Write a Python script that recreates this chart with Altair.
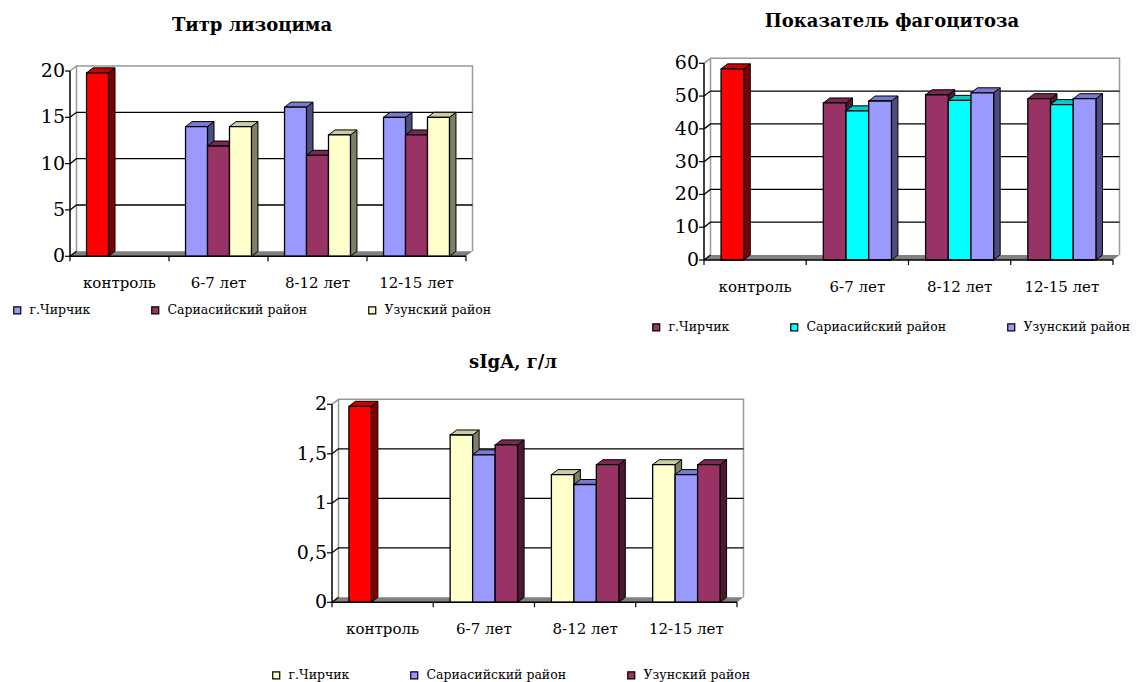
import altair as alt
import pandas as pd

# ---- data -------------------------------------------------------------
categories = ["контроль", "6-7 лет", "8-12 лет", "12-15 лет"]
series = ["г.Чирчик", "Сариасийский район", "Узунский район"]
control_label = "контроль"

# Титр лизоцима
lys_control = 19.8
lys_chirchik = [14.0, 16.1, 15.0]
lys_sariasi = [11.9, 10.9, 13.1]
lys_uzun = [14.0, 13.1, 15.0]
lys_ticks = [0, 5, 10, 15, 20]
lys_tick_labels = ["0", "5", "10", "15", "20"]

# Показатель фагоцитоза
fag_control = 58.3
fag_chirchik = [47.9, 50.4, 49.2]
fag_sariasi = [45.5, 48.7, 47.4]
fag_uzun = [48.5, 51.0, 49.2]
fag_ticks = [0, 10, 20, 30, 40, 50, 60]
fag_tick_labels = ["0", "10", "20", "30", "40", "50", "60"]

# sIgA, г/л
iga_control = 1.98
iga_chirchik = [1.69, 1.29, 1.39]
iga_sariasi = [1.49, 1.19, 1.29]
iga_uzun = [1.59, 1.39, 1.39]
iga_ticks = [0, 0.5, 1, 1.5, 2]
iga_tick_labels = ["0", "0,5", "1", "1,5", "2"]

# ---- style ------------------------------------------------------------
RED = "#FF0000"
PERIWINKLE = "#9999FF"
PLUM = "#993366"
IVORY = "#FFFFCC"
CYAN = "#00FFFF"

FONT = "DejaVu Serif"
DEPTH_X, DEPTH_Y = 6.5, 5.0     # pixel depth of the 3-D columns
BAR_W = 0.222                   # column width, in category units
TICK_PX = 5


def shade(color, f):
    c = color.lstrip("#")
    r, g, b = (int(c[i:i + 2], 16) for i in (0, 2, 4))
    return "#%02x%02x%02x" % (int(r * f), int(g * f), int(b * f))


def panel(title, control, series_values, colors, ticks, tick_labels,
          px_x, px_y, title_xy, legend_xy):
    n = len(categories)
    x0, x1 = px_x
    yb, yt = px_y
    ymax = ticks[-1]
    ux = n / (x1 - x0)
    uy = ymax / (yb - yt)
    dx, dy = DEPTH_X * ux, DEPTH_Y * uy

    xs = alt.Scale(domain=[0, n], range=[x0, x1], nice=False, zero=False)
    ys = alt.Scale(domain=[0, ymax], range=[yb, yt], nice=False, zero=False)

    def X(f):
        return alt.X(f, type="quantitative", scale=xs, axis=None)

    def Y(f):
        return alt.Y(f, type="quantitative", scale=ys, axis=None)

    # columns
    rows = [dict(name=control_label, cat=0, slot=0, v=control, color=RED)]
    for k, (name, vals) in enumerate(zip(series, series_values)):
        for ci, v in enumerate(vals, start=1):
            rows.append(dict(name=name, cat=ci, slot=k, v=v, color=colors[k]))
    bars = pd.DataFrame(rows)
    bars["id"] = range(len(bars))
    centre = bars["cat"] + 0.5 + (bars["slot"] - 1) * BAR_W
    bars["xl"] = centre - BAR_W / 2
    bars["xr"] = centre + BAR_W / 2
    bars["base"] = 0.0

    side = pd.concat([
        pd.DataFrame(dict(id=bars["id"], x=bars["xr"], lo=0.0, hi=bars["v"])),
        pd.DataFrame(dict(id=bars["id"], x=bars["xr"] + dx, lo=dy, hi=bars["v"] + dy)),
    ])
    side["shade"] = side["id"].map(lambda i: shade(bars["color"][i], 0.5))

    top = pd.concat([
        pd.DataFrame(dict(id=bars["id"], y=bars["v"], a=bars["xl"], b=bars["xr"])),
        pd.DataFrame(dict(id=bars["id"], y=bars["v"] + dy, a=bars["xl"] + dx, b=bars["xr"] + dx)),
    ])
    top["shade"] = top["id"].map(lambda i: shade(bars["color"][i], 0.8))

    # back wall, floor and gridlines
    floor = pd.DataFrame(dict(y=[0.0, dy], a=[0.0, dx], b=[float(n), n + dx]))

    grid_rows = []
    for v in ticks[1:-1]:
        for o, (gx, gy) in enumerate([(0, v), (dx, v + dy), (n + dx, v + dy)]):
            grid_rows.append(dict(g=v, o=o, x=gx, y=gy))
    grid_rows += [dict(g=-1, o=0, x=0.0, y=0.0), dict(g=-1, o=1, x=dx, y=dy)]
    grid = pd.DataFrame(grid_rows)

    wall = pd.DataFrame(dict(
        g=[0, 0, 0, 0, 1, 1],
        o=[0, 1, 2, 3, 0, 1],
        x=[0.0, dx, n + dx, n + dx, dx, dx],
        y=[ymax, ymax + dy, ymax + dy, dy, dy, ymax + dy],
    ))

    # axes
    ytick = pd.DataFrame(dict(v=ticks, a=-TICK_PX * ux, b=0.0, label=tick_labels, x=0.0))
    xtick = pd.DataFrame(dict(x=list(range(n + 1)), lo=-TICK_PX * uy, hi=0.0))
    left_axis = pd.DataFrame(dict(x=[0.0], lo=[0.0], hi=[float(ymax)]))
    bottom_axis = pd.DataFrame(dict(a=[0.0], b=[float(n)], y=[0.0]))
    cat_labels = pd.DataFrame(dict(x=[i + 0.5 for i in range(n)], y=0.0, label=categories))

    def legend():
        return alt.Legend(
            orient="none", legendX=legend_xy[0], legendY=legend_xy[1],
            direction="horizontal", title=None, values=series,
            symbolType="square", symbolSize=49, symbolStrokeColor="black",
            symbolStrokeWidth=1.2, labelFont=FONT, labelFontSize=12.5,
            labelColor="black", columnPadding=58, labelOffset=6, padding=0,
        )

    names = [control_label] + series

    layers = [
        alt.Chart(floor).mark_area(orient="horizontal", color="#808080").encode(
            y=Y("y"), x=X("a"), x2="b"),
        alt.Chart(wall).mark_line(color="#999999", strokeWidth=1.5).encode(
            x=X("x"), y=Y("y"), detail="g:N", order="o:Q"),
        alt.Chart(grid).mark_line(color="black", strokeWidth=1.3).encode(
            x=X("x"), y=Y("y"), detail="g:N", order="o:Q"),
        alt.Chart(side).mark_area(orient="vertical", stroke="black", strokeWidth=1).encode(
            x=X("x"), y=Y("lo"), y2="hi", detail="id:N",
            fill=alt.Fill("shade:N", scale=None)),
        alt.Chart(top).mark_area(orient="horizontal", stroke="black", strokeWidth=1).encode(
            y=Y("y"), x=X("a"), x2="b", detail="id:N",
            fill=alt.Fill("shade:N", scale=None)),
        alt.Chart(bars).mark_rect(strokeWidth=1.3, opacity=1).encode(
            x=X("xl"), x2="xr", y=Y("base"), y2="v",
            fill=alt.Fill("name:N", scale=alt.Scale(domain=names, range=[RED] + colors),
                          legend=legend()),
            stroke=alt.Stroke("name:N", scale=alt.Scale(domain=names, range=["black"] * 4),
                              legend=legend()),
        ),
        alt.Chart(left_axis).mark_rule(color="black", strokeWidth=1.5).encode(
            x=X("x"), y=Y("lo"), y2="hi"),
        alt.Chart(bottom_axis).mark_rule(color="black", strokeWidth=1.5).encode(
            x=X("a"), x2="b", y=Y("y")),
        alt.Chart(ytick).mark_rule(color="black", strokeWidth=1.2).encode(
            x=X("a"), x2="b", y=Y("v")),
        alt.Chart(xtick).mark_rule(color="black", strokeWidth=1.2).encode(
            x=X("x"), y=Y("lo"), y2="hi"),
        alt.Chart(ytick).mark_text(align="right", baseline="middle", dx=-5,
                                   font=FONT, fontSize=19, color="black").encode(
            x=X("x"), y=Y("v"), text="label:N"),
        alt.Chart(cat_labels).mark_text(align="center", baseline="middle", dy=27,
                                        font=FONT, fontSize=15, color="black").encode(
            x=X("x"), y=Y("y"), text="label:N"),
        alt.Chart(pd.DataFrame(dict(t=[title]))).mark_text(
            align="center", baseline="middle", font=FONT, fontSize=18,
            fontWeight="bold", color="black").encode(
            x=alt.value(title_xy[0]), y=alt.value(title_xy[1]), text="t:N"),
    ]
    return alt.layer(*layers)


lysozyme = panel("Титр лизоцима", lys_control,
                 [lys_chirchik, lys_sariasi, lys_uzun],
                 [PERIWINKLE, PLUM, IVORY], lys_ticks, lys_tick_labels,
                 (70, 466), (256.3, 71), (252, 26), (11, 304))

phagocytosis = panel("Показатель фагоцитоза", fag_control,
                     [fag_chirchik, fag_sariasi, fag_uzun],
                     [PLUM, CYAN, PERIWINKLE], fag_ticks, fag_tick_labels,
                     (704, 1113), (260, 63.3), (892, 22), (650, 321))

siga = panel("sIgA, г/л", iga_control,
             [iga_chirchik, iga_sariasi, iga_uzun],
             [IVORY, PERIWINKLE, PLUM], iga_ticks, iga_tick_labels,
             (332, 737), (602.3, 404.3), (513, 363), (270, 669))

chart = alt.layer(lysozyme, phagocytosis, siga).resolve_scale(
    x="independent", y="independent", fill="independent", stroke="independent"
).properties(
    width=1136, height=682, padding=0, autosize="none", background="white"
).configure_view(stroke=None)

chart.save("out.html", embed_options={"renderer": "svg", "actions": False})
